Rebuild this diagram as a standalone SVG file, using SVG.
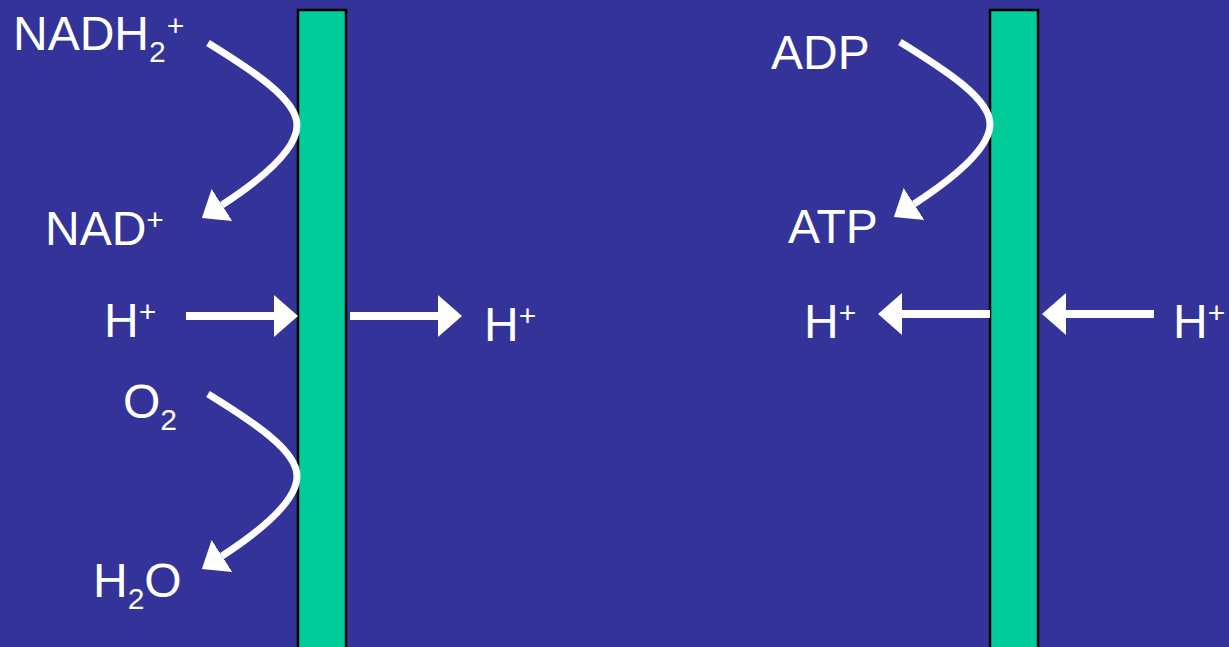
<svg xmlns="http://www.w3.org/2000/svg" width="1229" height="647" viewBox="0 0 1229 647">
  <style>
    .membrane { fill: #00CC99; stroke: #000000; stroke-width: 2.5; }
    .lbl { font-family: "Liberation Sans", Arial, sans-serif; font-size: 48px; fill: #ffffff; }
    .small { font-size: 30px; }
    .flow { fill: none; stroke: #ffffff; stroke-width: 7; }
    .flux { fill: none; stroke: #ffffff; stroke-width: 8; }
  </style>
  <defs>
    <marker id="head" viewBox="0 -22 25 44" refX="0" refY="0" markerWidth="25" markerHeight="44" markerUnits="userSpaceOnUse" orient="auto">
      <path d="M0,-21 L24,0 L0,21 Z" fill="#ffffff"/>
    </marker>
    <marker id="head-c" viewBox="0 -20 25 40" refX="0" refY="0" markerWidth="25" markerHeight="40" markerUnits="userSpaceOnUse" orient="auto">
      <path d="M0,-19 L24,0 L0,19 Z" fill="#ffffff"/>
    </marker>
  </defs>

  <rect x="0" y="0" width="1229" height="647" fill="#333399"/>

  <!-- membranes -->
  <g id="membrane-left"><rect class="membrane" x="298" y="10" width="48" height="660"/></g>
  <g id="membrane-right"><rect class="membrane" x="990" y="10" width="48" height="660"/></g>

  <!-- connectors -->
  <g id="connectors">
    <path class="flow" d="M208,43 C255,72 297,100 297,125 C297,148 265,177 222,205" marker-end="url(#head-c)"/>
    <path class="flow" d="M208,394 C255,423 297,451 297,476 C297,499 265,528 222,556" marker-end="url(#head-c)"/>
    <path class="flow" d="M900,42 C947,71 990,99 990,124 C990,147 957,176 914,204" marker-end="url(#head-c)"/>
    <path class="flux" d="M186,316 H274" marker-end="url(#head)"/>
    <path class="flux" d="M350,316 H438" marker-end="url(#head)"/>
    <path class="flux" d="M990,314 H902" marker-end="url(#head)"/>
    <path class="flux" d="M1154,314 H1066" marker-end="url(#head)"/>
  </g>

  <!-- labels -->
  <g id="nadh2">
    <text class="lbl" x="13" y="50">NADH<tspan class="small" y="62">2</tspan><tspan class="small" dx="1" y="36">+</tspan></text>
  </g>
  <g id="nad">
    <text class="lbl" x="45" y="245">NAD<tspan class="small" y="230">+</tspan></text>
  </g>
  <g id="h-in-left">
    <text class="lbl" x="104" y="337">H<tspan class="small" y="322">+</tspan></text>
  </g>
  <g id="h-out-left">
    <text class="lbl" x="484" y="341">H<tspan class="small" y="326">+</tspan></text>
  </g>
  <g id="o2">
    <text class="lbl" x="123" y="418">O<tspan class="small" y="430">2</tspan></text>
  </g>
  <g id="h2o">
    <text class="lbl" x="93" y="597">H<tspan class="small" y="609">2</tspan><tspan y="597">O</tspan></text>
  </g>
  <g id="adp">
    <text class="lbl" x="771" y="69">ADP</text>
  </g>
  <g id="atp">
    <text class="lbl" x="788" y="243">ATP</text>
  </g>
  <g id="h-out-right">
    <text class="lbl" x="804" y="338">H<tspan class="small" y="323">+</tspan></text>
  </g>
  <g id="h-in-right">
    <text class="lbl" x="1173" y="338">H<tspan class="small" y="323">+</tspan></text>
  </g>
</svg>
